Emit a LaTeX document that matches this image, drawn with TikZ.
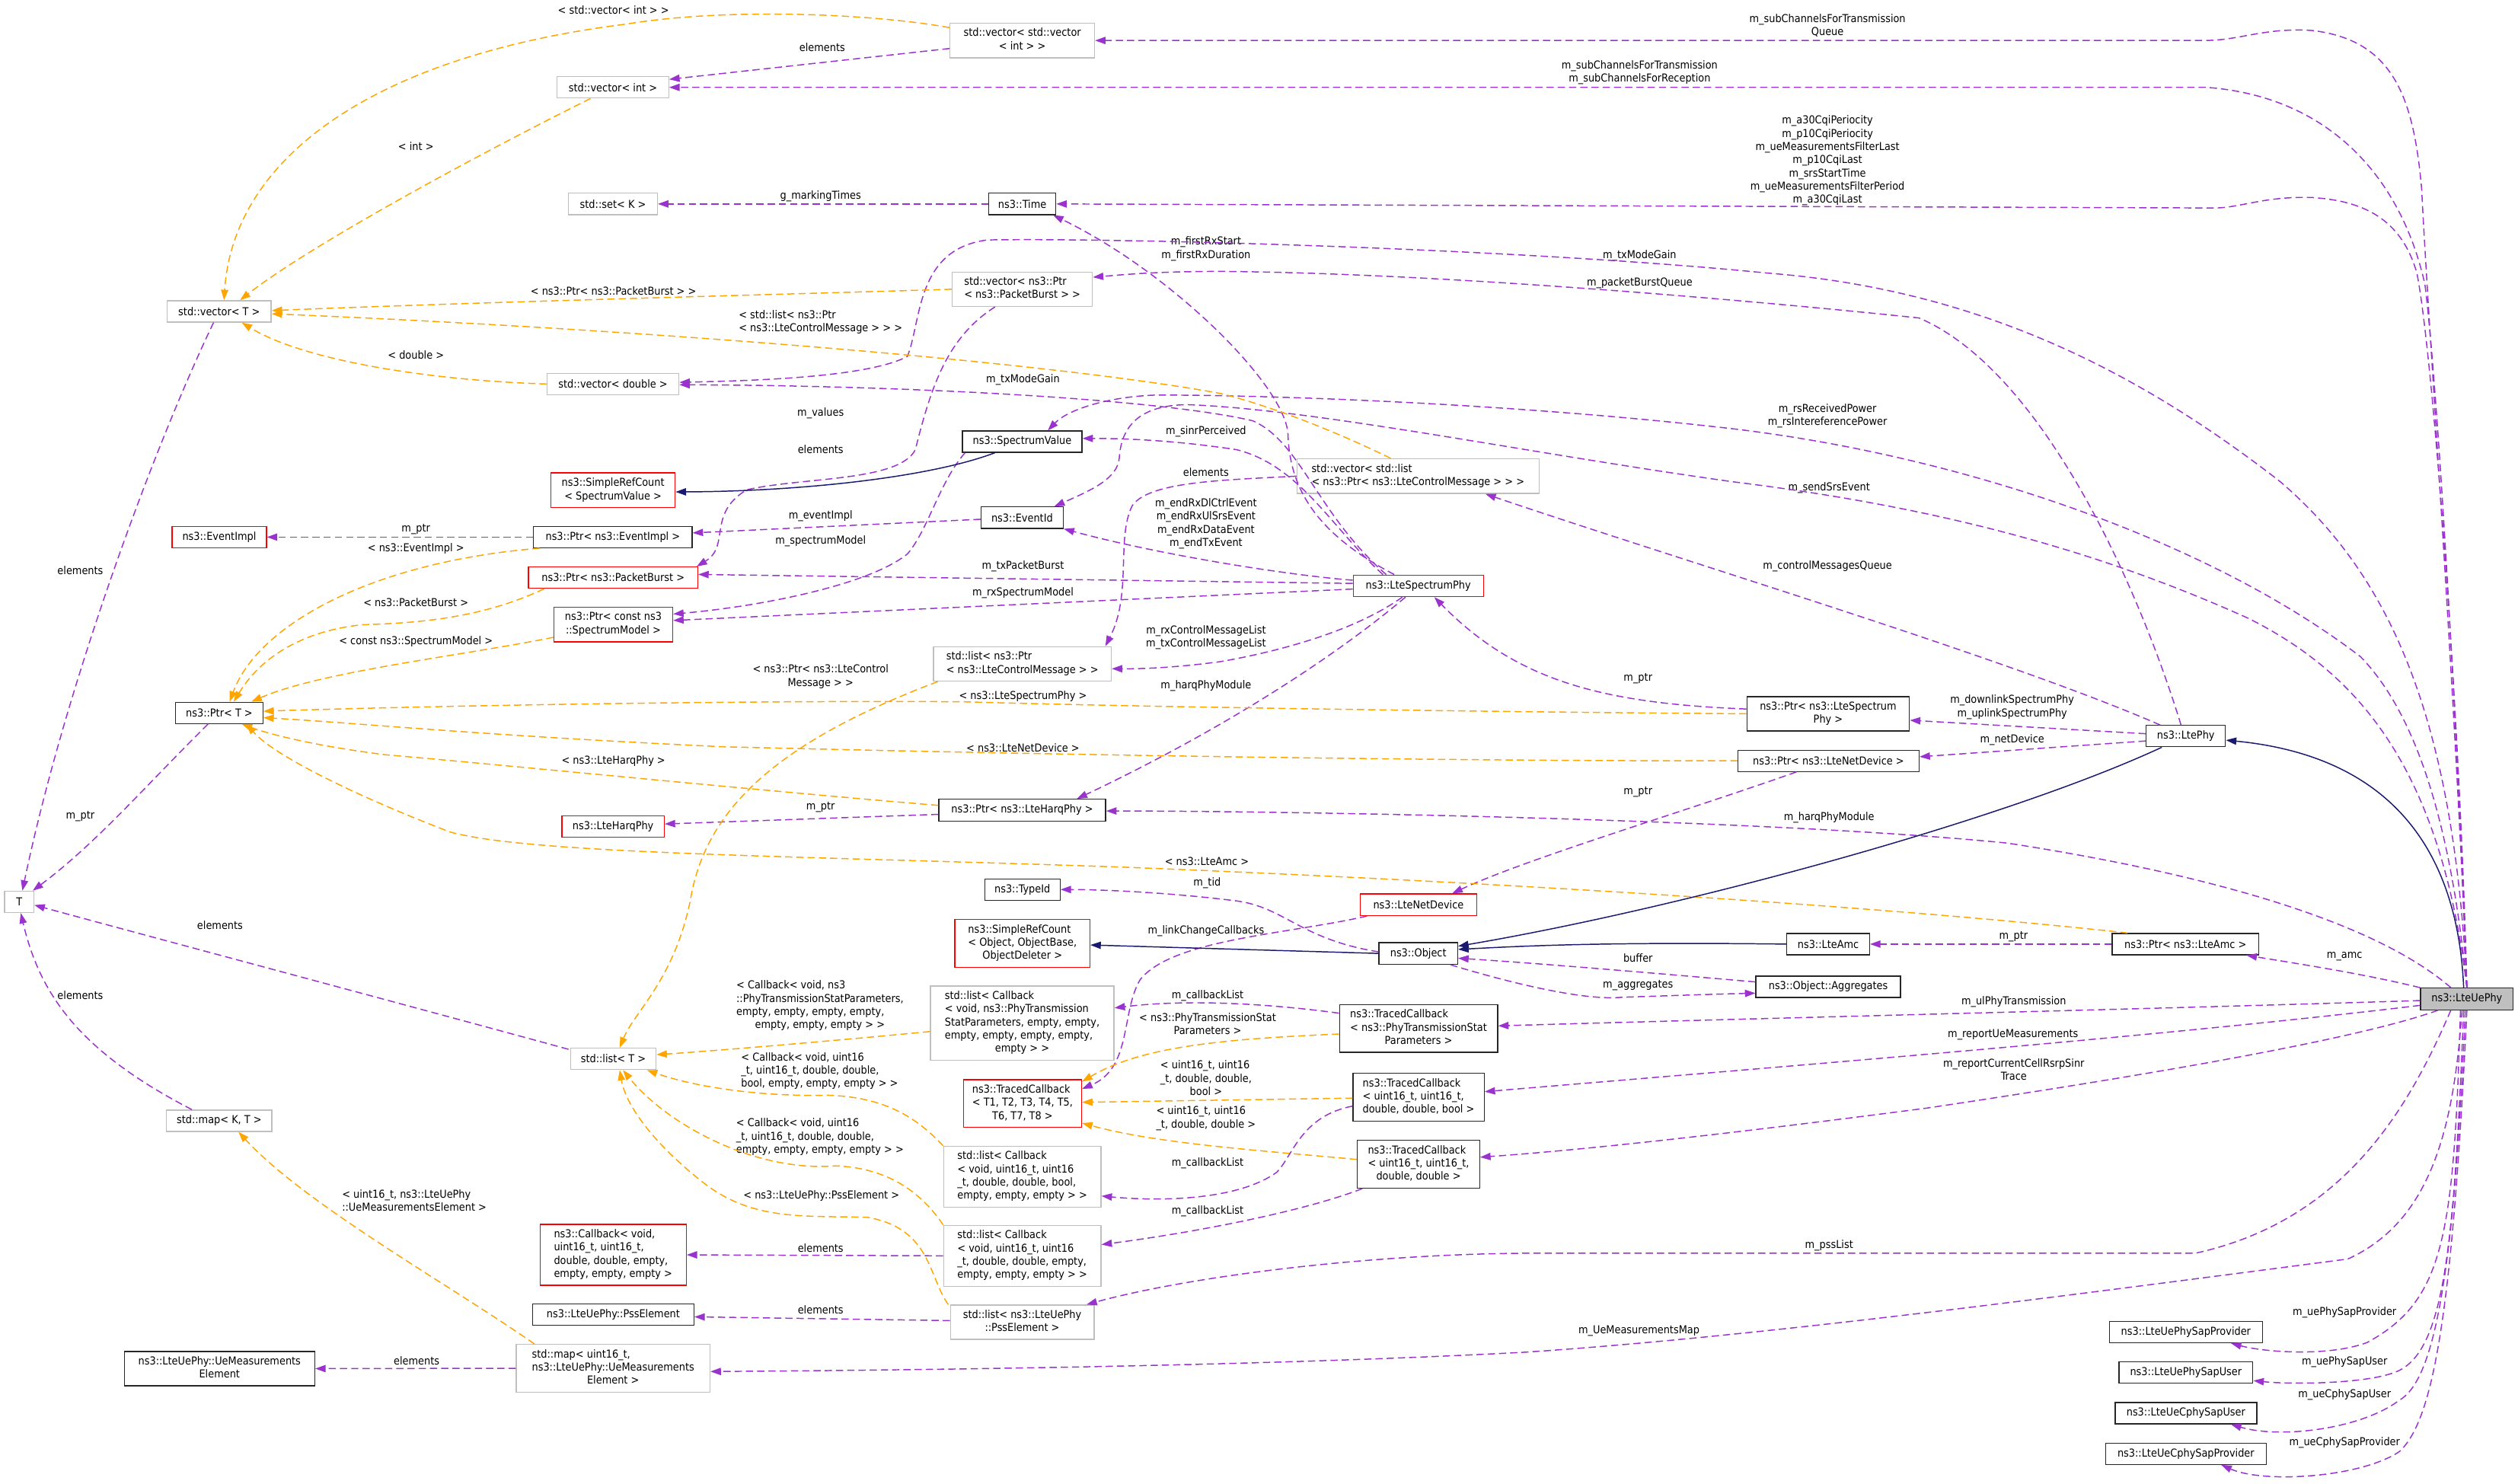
\documentclass[tikz,border=0pt]{standalone}
\usepackage{fontspec}
\newfontfamily\doxfont{DejaVu Sans Condensed}
\usetikzlibrary{arrows.meta}
\definecolor{membcol}{HTML}{9A32CD}
\definecolor{tmplcol}{HTML}{FFA500}
\definecolor{inhrcol}{HTML}{191970}
\definecolor{greyframe}{HTML}{BFBFBF}
\newcommand{\lastln}[1]{\multicolumn{1}{@{}c@{}}{#1}}
\tikzset{
  cls/.style={draw=black!85, line width=0.6pt, inner sep=0pt, font=\doxfont\fontsize{6.8}{8.2}\selectfont},
  gcls/.style={cls, draw=greyframe},
  rcls/.style={cls, draw=red},
  mcls/.style={cls, fill=greyframe},
  lbl/.style={inner sep=0pt, font=\doxfont\fontsize{6.8}{8.2}\selectfont},
  memb/.style={draw=membcol, line width=0.7pt, dash pattern=on 4.5pt off 2.5pt, -{Triangle[length=6.5pt,width=4.5pt]}},
  tmpl/.style={memb, draw=tmplcol},
  inhr/.style={draw=inhrcol, line width=0.7pt, -{Triangle[length=6.5pt,width=4.5pt]}},
}
\begin{document}
\begin{tikzpicture}[x=1pt, y=-1pt]
\useasboundingbox (0,0) rectangle (1568,924);

\node[gcls, minimum width=90pt, minimum height=21.6pt] (vvint) at (636.6,25.2) {\begin{tabular}{@{}l@{}}std::vector< std::vector\\ \lastln{< int > >}\end{tabular}};
\node[gcls, minimum width=69.4pt, minimum height=13.3pt] (vint) at (381.7,54.4) {std::vector< int >};
\node[gcls, minimum width=55.4pt, minimum height=13.3pt] (setk) at (381.7,127) {std::set< K >};
\node[cls, minimum width=41.7pt, minimum height=13.3pt] (time) at (636.6,127) {ns3::Time};
\node[gcls, minimum width=64.7pt, minimum height=13.3pt] (vect) at (136.5,193.9) {std::vector< T >};
\node[gcls, minimum width=87.3pt, minimum height=21.4pt] (vecpb) at (636.6,180.1) {\begin{tabular}{@{}l@{}}std::vector< ns3::Ptr\\ \lastln{< ns3::PacketBurst > >}\end{tabular}};
\node[gcls, minimum width=82.1pt, minimum height=13.3pt] (vecdbl) at (381.7,239.1) {std::vector< double >};
\node[cls, minimum width=74.5pt, minimum height=13.3pt] (specval) at (636.5,275) {ns3::SpectrumValue};
\node[gcls, minimum width=150.6pt, minimum height=21.6pt] (veclist) at (883,296.5) {\begin{tabular}{@{}l@{}}std::vector< std::list\\ \lastln{< ns3::Ptr< ns3::LteControlMessage > > >}\end{tabular}};
\node[rcls, minimum width=77.3pt, minimum height=21.6pt] (srcsv) at (381.75,305.3) {\begin{tabular}{@{}l@{}}ns3::SimpleRefCount\\ \lastln{< SpectrumValue >}\end{tabular}};
\node[rcls, minimum width=58.7pt, minimum height=13.3pt] (eventimpl) at (136.55,334.45) {ns3::EventImpl};
\node[cls, minimum width=98.7pt, minimum height=13.3pt] (ptrei) at (381.65,334.45) {ns3::Ptr< ns3::EventImpl >};
\node[cls, minimum width=51.2pt, minimum height=13.3pt] (eventid) at (636.5,322.35) {ns3::EventId};
\node[rcls, minimum width=105.4pt, minimum height=13.3pt] (ptrpb) at (381.8,359.7) {ns3::Ptr< ns3::PacketBurst >};
\node[rcls, minimum width=74pt, minimum height=21.6pt] (ptrsm) at (381.9,388.85) {\begin{tabular}{@{}l@{}}ns3::Ptr< const ns3\\ \lastln{::SpectrumModel >}\end{tabular}};
\node[rcls, minimum width=81pt, minimum height=13.5pt] (lsp) at (883.2,364.8) {ns3::LteSpectrumPhy};
\node[gcls, minimum width=110.7pt, minimum height=21.4pt] (listcm) at (636.65,413.4) {\begin{tabular}{@{}l@{}}std::list< ns3::Ptr\\ \lastln{< ns3::LteControlMessage > >}\end{tabular}};
\node[cls, minimum width=54.3pt, minimum height=13.3pt] (ptrt) at (136.55,443.9) {ns3::Ptr< T >};
\node[cls, minimum width=101.2pt, minimum height=21.4pt] (ptrlsp) at (1138.4,444.5) {\begin{tabular}{@{}l@{}}ns3::Ptr< ns3::LteSpectrum\\ \lastln{Phy >}\end{tabular}};
\node[cls, minimum width=112.7pt, minimum height=13.3pt] (ptrnd) at (1138.65,473.75) {ns3::Ptr< ns3::LteNetDevice >};
\node[cls, minimum width=49.3pt, minimum height=13.3pt] (ltephy) at (1361.15,458.4) {ns3::LtePhy};
\node[rcls, minimum width=63.7pt, minimum height=13.3pt] (harq) at (381.75,514.7) {ns3::LteHarqPhy};
\node[cls, minimum width=103.9pt, minimum height=13.5pt] (ptrharq) at (636.55,504.5) {ns3::Ptr< ns3::LteHarqPhy >};
\node[gcls, minimum width=18.3pt, minimum height=13.3pt] (tparam) at (11.95,561.6) {T};
\node[cls, minimum width=46.9pt, minimum height=13.3pt] (typeid) at (636.65,553.9) {ns3::TypeId};
\node[rcls, minimum width=72.8pt, minimum height=13.5pt] (lnd) at (883.3,563.4) {ns3::LteNetDevice};
\node[rcls, minimum width=84.1pt, minimum height=29.7pt] (srcobj) at (636.65,587.45) {\begin{tabular}{@{}l@{}}ns3::SimpleRefCount\\ < Object, ObjectBase,\\ \lastln{ObjectDeleter >}\end{tabular}};
\node[cls, minimum width=49pt, minimum height=13.5pt] (object) at (883.2,593.7) {ns3::Object};
\node[cls, minimum width=51.5pt, minimum height=13.3pt] (lteamc) at (1138.45,587.9) {ns3::LteAmc};
\node[cls, minimum width=91.4pt, minimum height=13.3pt] (ptramc) at (1360.9,587.9) {ns3::Ptr< ns3::LteAmc >};
\node[cls, minimum width=90.1pt, minimum height=13.3pt] (aggr) at (1138.45,614.45) {ns3::Object::Aggregates};
\node[mcls, minimum width=57.7pt, minimum height=13.5pt] (lteuephy) at (1536.15,622.05) {ns3::LteUePhy};
\node[gcls, minimum width=114.3pt, minimum height=46.3pt] (listcbphy) at (636.55,637.15) {\begin{tabular}{@{}l@{}}std::list< Callback\\ < void, ns3::PhyTransmission\\ StatParameters, empty, empty,\\ empty, empty, empty, empty,\\ \lastln{empty > >}\end{tabular}};
\node[cls, minimum width=98.5pt, minimum height=29.7pt] (tcphy) at (883.35,640.4) {\begin{tabular}{@{}l@{}}ns3::TracedCallback\\ < ns3::PhyTransmissionStat\\ \lastln{Parameters >}\end{tabular}};
\node[gcls, minimum width=53.2pt, minimum height=13.3pt] (listt) at (381.9,659.35) {std::list< T >};
\node[rcls, minimum width=73.5pt, minimum height=29.7pt] (tct) at (636.75,687.2) {\begin{tabular}{@{}l@{}}ns3::TracedCallback\\ < T1, T2, T3, T4, T5,\\ \lastln{T6, T7, T8 >}\end{tabular}};
\node[cls, minimum width=81.7pt, minimum height=29.7pt] (tcbool) at (883.35,683.3) {\begin{tabular}{@{}l@{}}ns3::TracedCallback\\ < uint16\_t, uint16\_t,\\ \lastln{double, double, bool >}\end{tabular}};
\node[cls, minimum width=76.1pt, minimum height=29.7pt] (tcdbl) at (883.35,725) {\begin{tabular}{@{}l@{}}ns3::TracedCallback\\ < uint16\_t, uint16\_t,\\ \lastln{double, double >}\end{tabular}};
\node[gcls, minimum width=98pt, minimum height=37.9pt] (listcbbool) at (636.6,732.75) {\begin{tabular}{@{}l@{}}std::list< Callback\\ < void, uint16\_t, uint16\\ \_t, double, double, bool,\\ \lastln{empty, empty, empty > >}\end{tabular}};
\node[gcls, minimum width=65.6pt, minimum height=13.3pt] (mapkt) at (136.5,697.9) {std::map< K, T >};
\node[gcls, minimum width=98pt, minimum height=37.9pt] (listcbdbl) at (636.6,782) {\begin{tabular}{@{}l@{}}std::list< Callback\\ < void, uint16\_t, uint16\\ \_t, double, double, empty,\\ \lastln{empty, empty, empty > >}\end{tabular}};
\node[rcls, minimum width=91pt, minimum height=37.9pt] (cbred) at (381.8,781.4) {\begin{tabular}{@{}l@{}}ns3::Callback< void,\\ uint16\_t, uint16\_t,\\ double, double, empty,\\ \lastln{empty, empty, empty >}\end{tabular}};
\node[cls, minimum width=100.4pt, minimum height=13.3pt] (psselem) at (381.9,818.7) {ns3::LteUePhy::PssElement};
\node[gcls, minimum width=89.5pt, minimum height=21.4pt] (listpss) at (636.55,823.35) {\begin{tabular}{@{}l@{}}std::list< ns3::LteUePhy\\ \lastln{::PssElement >}\end{tabular}};
\node[cls, minimum width=118.6pt, minimum height=21.4pt] (uemeas) at (136.7,852.25) {\begin{tabular}{@{}l@{}}ns3::LteUePhy::UeMeasurements\\ \lastln{Element}\end{tabular}};
\node[gcls, minimum width=120.6pt, minimum height=29.7pt] (mapue) at (381.8,852.05) {\begin{tabular}{@{}l@{}}std::map< uint16\_t,\\ ns3::LteUePhy::UeMeasurements\\ \lastln{Element >}\end{tabular}};
\node[cls, minimum width=95.2pt, minimum height=13.3pt] (sapprov) at (1361.2,829.45) {ns3::LteUePhySapProvider};
\node[cls, minimum width=83.4pt, minimum height=13.3pt] (sapuser) at (1361.2,854.75) {ns3::LteUePhySapUser};
\node[cls, minimum width=88.2pt, minimum height=13.3pt] (cphyuser) at (1361.2,880) {ns3::LteUeCphySapUser};
\node[cls, minimum width=100pt, minimum height=13.3pt] (cphyprov) at (1361.2,905.25) {ns3::LteUeCphySapProvider};

\node[lbl] (l1) at (382,6) {< std::vector< int > >};
\node[lbl] (l2) at (512,29.5) {elements};
\node[lbl] (l3) at (259,91) {< int >};
\node[lbl] (l4) at (511,122) {g\_markingTimes};
\node[lbl] (l5) at (1138,16.3) {\begin{tabular}{@{}l@{}}m\_subChannelsForTransmission\\ \lastln{Queue}\end{tabular}};
\node[lbl] (l6) at (1021,45.3) {\begin{tabular}{@{}c@{}}m\_subChannelsForTransmission\\ m\_subChannelsForReception\end{tabular}};
\node[lbl] (l7) at (1138,100.2) {\begin{tabular}{@{}c@{}}m\_a30CqiPeriocity\\ m\_p10CqiPeriocity\\ m\_ueMeasurementsFilterLast\\ m\_p10CqiLast\\ m\_srsStartTime\\ m\_ueMeasurementsFilterPeriod\\ m\_a30CqiLast\end{tabular}};
\node[lbl] (l8) at (1021,159) {m\_txModeGain};
\node[lbl] (l9) at (1021,176.4) {m\_packetBurstQueue};
\node[lbl] (l10) at (751,155) {\begin{tabular}{@{}c@{}}m\_firstRxStart\\ m\_firstRxDuration\end{tabular}};
\node[lbl] (l11) at (382,181) {< ns3::Ptr< ns3::PacketBurst > >};
\node[lbl] (l12) at (511,200.7) {\begin{tabular}{@{}l@{}}< std::list< ns3::Ptr\\ \lastln{< ns3::LteControlMessage > > >}\end{tabular}};
\node[lbl] (l13) at (259,221) {< double >};
\node[lbl] (l14) at (637,236.7) {m\_txModeGain};
\node[lbl] (l15) at (511,257.5) {m\_values};
\node[lbl] (l16) at (1138,259) {\begin{tabular}{@{}c@{}}m\_rsReceivedPower\\ m\_rsIntereferencePower\end{tabular}};
\node[lbl] (l17) at (751,268.7) {m\_sinrPerceived};
\node[lbl] (l18) at (511,280) {elements};
\node[lbl] (l19) at (751,294) {elements};
\node[lbl] (l20) at (1139,303.7) {m\_sendSrsEvent};
\node[lbl] (l21) at (511,321.5) {m\_eventImpl};
\node[lbl] (l22) at (751,326.2) {\begin{tabular}{@{}c@{}}m\_endRxDlCtrlEvent\\ m\_endRxUlSrsEvent\\ m\_endRxDataEvent\\ m\_endTxEvent\end{tabular}};
\node[lbl] (l23) at (259,329.4) {m\_ptr};
\node[lbl] (l24) at (511,337) {m\_spectrumModel};
\node[lbl] (l25) at (259,341.4) {< ns3::EventImpl >};
\node[lbl] (l26) at (1138,352.4) {m\_controlMessagesQueue};
\node[lbl] (l27) at (637,352.8) {m\_txPacketBurst};
\node[lbl] (l28) at (50,355.4) {elements};
\node[lbl] (l29) at (637,369.4) {m\_rxSpectrumModel};
\node[lbl] (l30) at (259,375) {< ns3::PacketBurst >};
\node[lbl] (l31) at (751,397) {\begin{tabular}{@{}c@{}}m\_rxControlMessageList\\ m\_txControlMessageList\end{tabular}};
\node[lbl] (l32) at (259,399.5) {< const ns3::SpectrumModel >};
\node[lbl] (l33) at (511,421.5) {\begin{tabular}{@{}l@{}}< ns3::Ptr< ns3::LteControl\\ \lastln{Message > >}\end{tabular}};
\node[lbl] (l34) at (1020,422.3) {m\_ptr};
\node[lbl] (l35) at (751,426.9) {m\_harqPhyModule};
\node[lbl] (l36) at (637,433.4) {< ns3::LteSpectrumPhy >};
\node[lbl] (l37) at (1253,440.5) {\begin{tabular}{@{}c@{}}m\_downlinkSpectrumPhy\\ m\_uplinkSpectrumPhy\end{tabular}};
\node[lbl] (l38) at (1253,460.6) {m\_netDevice};
\node[lbl] (l39) at (637,465.6) {< ns3::LteNetDevice >};
\node[lbl] (l40) at (382,474) {< ns3::LteHarqPhy >};
\node[lbl] (l41) at (1020,493.3) {m\_ptr};
\node[lbl] (l42) at (511,502.7) {m\_ptr};
\node[lbl] (l43) at (50,508.5) {m\_ptr};
\node[lbl] (l44) at (1139,509) {m\_harqPhyModule};
\node[lbl] (l45) at (751.5,536.6) {< ns3::LteAmc >};
\node[lbl] (l46) at (751.7,550) {m\_tid};
\node[lbl] (l47) at (137,576) {elements};
\node[lbl] (l48) at (751,579.6) {m\_linkChangeCallbacks};
\node[lbl] (l49) at (1253.8,583.4) {m\_ptr};
\node[lbl] (l50) at (1460,595.5) {m\_amc};
\node[lbl] (l51) at (1020,596.5) {buffer};
\node[lbl] (l52) at (1020,613.5) {m\_aggregates};
\node[lbl] (l53) at (50,619.7) {elements};
\node[lbl] (l54) at (752,620.2) {m\_callbackList};
\node[lbl] (l55) at (1254,624) {m\_ulPhyTransmission};
\node[lbl] (l56) at (510.6,626.5) {\begin{tabular}{@{}l@{}}< Callback< void, ns3\\ ::PhyTransmissionStatParameters,\\ empty, empty, empty, empty,\\ \lastln{empty, empty, empty > >}\end{tabular}};
\node[lbl] (l57) at (752,638.6) {\begin{tabular}{@{}l@{}}< ns3::PhyTransmissionStat\\ \lastln{Parameters >}\end{tabular}};
\node[lbl] (l58) at (1253.5,644.5) {m\_reportUeMeasurements};
\node[lbl] (l59) at (1254,667) {\begin{tabular}{@{}l@{}}m\_reportCurrentCellRsrpSinr\\ \lastln{Trace}\end{tabular}};
\node[lbl] (l60) at (510.4,667.1) {\begin{tabular}{@{}l@{}}< Callback< void, uint16\\ \_t, uint16\_t, double, double,\\ \lastln{bool, empty, empty, empty > >}\end{tabular}};
\node[lbl] (l61) at (751,672.2) {\begin{tabular}{@{}l@{}}< uint16\_t, uint16\\ \_t, double, double,\\ \lastln{bool >}\end{tabular}};
\node[lbl] (l62) at (751,696.5) {\begin{tabular}{@{}l@{}}< uint16\_t, uint16\\ \lastln{\_t, double, double >}\end{tabular}};
\node[lbl] (l63) at (510.6,708.2) {\begin{tabular}{@{}l@{}}< Callback< void, uint16\\ \_t, uint16\_t, double, double,\\ \lastln{empty, empty, empty, empty > >}\end{tabular}};
\node[lbl] (l64) at (752,724.2) {m\_callbackList};
\node[lbl] (l65) at (511.5,744.7) {< ns3::LteUePhy::PssElement >};
\node[lbl] (l66) at (258,748.5) {\begin{tabular}{@{}l@{}}< uint16\_t, ns3::LteUePhy\\ \lastln{::UeMeasurementsElement >}\end{tabular}};
\node[lbl] (l67) at (752,754) {m\_callbackList};
\node[lbl] (l68) at (1139,775.8) {m\_pssList};
\node[lbl] (l69) at (511,777.1) {elements};
\node[lbl] (l70) at (511,815.7) {elements};
\node[lbl] (l71) at (1460,817.2) {m\_uePhySapProvider};
\node[lbl] (l72) at (1020.6,828.8) {m\_UeMeasurementsMap};
\node[lbl] (l73) at (259.4,847.5) {elements};
\node[lbl] (l74) at (1460,848) {m\_uePhySapUser};
\node[lbl] (l75) at (1460,868.4) {m\_ueCphySapUser};
\node[lbl] (l76) at (1460,898.6) {m\_ueCphySapProvider};

\draw[memb] (lteuephy.north) .. controls (1530,450) and (1512,200) .. (1508,118) .. controls (1503,60) and (1490,25) .. (1440,19) .. controls (1410,17) and (1395,25.2) .. (1373,25.2) -- (vvint.east);
\draw[memb] (lteuephy.north) .. controls (1530,450) and (1518,240) .. (1510,177) .. controls (1495,110) and (1450,60) .. (1374,54.4) -- (vint.east);
\draw[memb] (lteuephy.north) .. controls (1532,450) and (1515,220) .. (1505,170) .. controls (1495,135) and (1470,125) .. (1440,123) .. controls (1410,122) and (1395,129.5) .. (1379,129.5) -- (time.east);
\draw[memb] ([yshift=-5pt]vvint.west) -- ([yshift=5pt]vint.east);
\draw[tmpl] ([yshift=8pt]vvint.west) .. controls (540,8) and (450,5) .. (390,15) .. controls (230,35) and (145,100) .. ([xshift=3pt]vect.north);
\draw[tmpl] ([xshift=-14pt]vint.south) .. controls (290,100) and (190,155) .. ([xshift=13pt]vect.north);
\draw[memb] (time.west) -- (setk.east);
\draw[memb] ([xshift=-15pt]lsp.north) .. controls (815,330) and (803,300) .. (802,270) .. controls (800,240) and (730,170) .. ([xshift=-2pt]time.south east);
\draw[memb] (lteuephy.north) .. controls (1528,450) and (1490,360) .. (1420,300) .. controls (1330,230) and (1230,180) .. (1100,170) .. controls (950,155) and (700,148) .. (615,149.4) .. controls (570,155) and (574,200) .. (565,222) .. controls (540,235) and (470,237) .. ([yshift=1pt]vecdbl.east);
\draw[memb] ([xshift=-20pt]lsp.north) .. controls (820,320) and (810,275) .. (780,262) .. controls (720,248) and (560,240) .. ([yshift=-0.5pt]vecdbl.east);
\draw[memb] (lteuephy.north) .. controls (1525,500) and (1500,440) .. (1470,409) .. controls (1380,340) and (1230,285) .. (1079,267) .. controls (950,252) and (800,246) .. (720,246) .. controls (690,247) and (665,255) .. ([xshift=16pt]specval.north);
\draw[memb] (lteuephy.north) .. controls (1520,480) and (1470,420) .. (1400,385) .. controls (1300,340) and (1200,315) .. (1079,300) .. controls (950,282) and (820,255) .. (740,252) .. controls (705,252) and (698,270) .. (697,285) .. controls (696,298) and (680,305) .. ([xshift=20pt]eventid.north);
\draw[memb] ([xshift=-16pt]ltephy.north) .. controls (1250,410) and (1050,350) .. ([xshift=42pt]veclist.south);
\draw[memb] ([xshift=-3pt]ltephy.north) .. controls (1330,360) and (1270,230) .. (1195,198) .. controls (1100,188) and (900,170) .. (760,169) .. controls (720,169) and (700,171) .. ([yshift=7.5pt]vecpb.east);
\draw[memb] ([xshift=-22pt]lsp.north) .. controls (830,330) and (810,290) .. (770,280) .. controls (730,274) and (700,273) .. ([yshift=2pt]specval.east);
\draw[memb] ([yshift=3.5pt]lsp.west) .. controls (800,358) and (720,345) .. (eventid.south east);
\draw[memb] ([yshift=1.5pt]lsp.west) -- ([yshift=2pt]ptrpb.east);
\draw[memb] ([yshift=-2pt]lsp.west) -- ([yshift=2.5pt]ptrsm.east);
\draw[memb] ([xshift=2pt]specval.south west) .. controls (585,300) and (578,330) .. (565,345) .. controls (540,365) and (470,378) .. ([yshift=6.5pt]ptrsm.east);
\draw[memb] ([xshift=-17pt]vecpb.south) .. controls (590,210) and (580,240) .. (570,280) .. controls (560,300) and (500,297) .. (465,305) .. controls (440,320) and (455,340) .. ([xshift=-1pt]ptrpb.north east);
\draw[memb] ([yshift=-1pt]eventid.west) -- ([yshift=2.6pt]ptrei.east);
\draw[memb] (ptrei.west) -- (eventimpl.east);
\draw[tmpl] ([xshift=4pt]ptrei.south west) .. controls (230,350) and (160,390) .. ([xshift=6.5pt]ptrt.north);
\draw[tmpl] ([xshift=10pt]ptrpb.south west) .. controls (300,385) and (260,388) .. (226,389) .. controls (195,392) and (165,405) .. ([xshift=9pt]ptrt.north);
\draw[tmpl] ([yshift=-8pt]ptrsm.west) .. controls (290,408) and (200,418) .. ([xshift=20pt]ptrt.north);
\draw[memb] ([yshift=3pt]ptrlsp.west) .. controls (1000,438) and (945,425) .. ([xshift=10pt]lsp.south);
\draw[memb] ([yshift=1.5pt]ltephy.west) -- ([yshift=-4pt]ptrlsp.east);
\draw[memb] ([yshift=-3pt]ltephy.west) -- ([yshift=2.5pt]ptrnd.east);
\draw[memb] ([xshift=-20pt]ptrnd.south) .. controls (1050,505) and (950,535) .. ([xshift=21pt]lnd.north);
\draw[memb] ([xshift=-8pt]lsp.south) .. controls (830,410) and (760,455) .. ([xshift=34pt]ptrharq.north);
\draw[memb] ([xshift=-10pt]lsp.south) .. controls (845,392) and (800,405) .. (760,412) .. controls (730,416) and (710,416.5) .. ([yshift=-3pt]listcm.east);
\draw[memb] (veclist.west) .. controls (760,299) and (715,300) .. (705,315) .. controls (695,335) and (705,370) .. ([xshift=-4pt]listcm.north east);
\draw[memb] ([xshift=-10pt]lteuephy.north) .. controls (1480,575) and (1380,545) .. (1250,525) .. controls (1100,510) and (800,505) .. ([yshift=-0.5pt]ptrharq.east);
\draw[memb] ([yshift=-2.6pt]ptrharq.west) -- ([yshift=1.6pt]harq.east);
\draw[tmpl] (ptrlsp.west) .. controls (900,443) and (700,440) .. (600,437) .. controls (450,436) and (250,440) .. ([yshift=1pt]ptrt.east);
\draw[tmpl] (ptrnd.west) .. controls (900,474) and (650,470) .. (450,465) .. controls (300,458) and (220,450) .. ([yshift=-3pt]ptrt.east);
\draw[tmpl] ([yshift=3pt]ptrharq.west) .. controls (480,493) and (300,475) .. (240,470) .. controls (200,465) and (170,458) .. ([xshift=14pt]ptrt.south);
\draw[tmpl] ([xshift=-36pt]ptramc.north) .. controls (1150,562) and (900,548) .. (700,540) .. controls (500,533) and (330,532) .. (280,518) .. controls (220,495) and (170,470) .. ([xshift=17pt]ptrt.south);
\draw[memb] ([xshift=-7pt]ptrt.south) .. controls (90,490) and (60,525) .. ([xshift=-1pt]tparam.north east);
\draw[memb] ([xshift=-3.5pt]vect.south) .. controls (95,280) and (40,430) .. ([xshift=2pt]tparam.north);
\draw[memb] ([xshift=-1pt,yshift=-1pt]listt.north west) .. controls (250,625) and (100,585) .. ([yshift=-2pt]tparam.east);
\draw[memb] ([xshift=-17pt]mapkt.north) .. controls (50,655) and (25,620) .. ([xshift=1pt]tparam.south);
\draw[tmpl] (vecdbl.west) .. controls (270,237) and (190,225) .. ([xshift=14pt]vect.south);
\draw[tmpl] (vecpb.west) .. controls (500,183) and (300,188) .. ([yshift=0.5pt]vect.east);
\draw[tmpl] ([xshift=-17pt]veclist.north) .. controls (845,275) and (800,255) .. (760,245) .. controls (650,225) and (400,205) .. ([yshift=-1.5pt]vect.east);
\draw[tmpl] ([xshift=3pt]listcm.south west) .. controls (490,460) and (440,500) .. (430,560) .. controls (420,610) and (395,630) .. ([xshift=4pt]listt.north);
\draw[tmpl] ([yshift=-5.2pt]listcbphy.west) .. controls (520,648) and (450,654) .. ([yshift=2.6pt]listt.east);
\draw[tmpl] (listcbbool.north west) .. controls (570,695) and (550,683) .. (515,682) .. controls (470,683) and (430,676) .. ([xshift=-6pt]listt.south east);
\draw[tmpl] (listcbdbl.north west) .. controls (572,740) and (550,727) .. (520,726) .. controls (470,730) and (415,700) .. ([xshift=6pt]listt.south);
\draw[tmpl] ([xshift=-1pt]listpss.north west) .. controls (578,795) and (580,765) .. (540,758) .. controls (500,757) and (470,760) .. (440,738) .. controls (410,715) and (390,690) .. ([xshift=4pt]listt.south);
\draw[tmpl] ([xshift=-49pt]mapue.north) .. controls (280,800) and (190,750) .. ([xshift=12pt]mapkt.south);
\draw[memb] ([yshift=1pt]listpss.west) -- ([yshift=-1.3pt]psselem.east);
\draw[memb] (listcbdbl.west) -- (cbred.east);
\draw[memb] (mapue.west) -- (uemeas.east);
\draw[memb] ([xshift=-3pt]lteuephy.south) .. controls (1528,700) and (1515,760) .. (1462,784) .. controls (1300,805) and (1100,832) .. (950,842) .. controls (800,850) and (600,853) .. ([yshift=-2pt]mapue.east);
\draw[memb] ([xshift=-10pt]lteuephy.south) .. controls (1500,690) and (1460,760) .. (1367,780.4) -- (950,780.4) .. controls (850,781) and (740,795) .. ([xshift=-5pt]listpss.north east);
\draw[memb] ([xshift=-4pt]lteuephy.south) .. controls (1528,770) and (1522,810) .. (1474,836) .. controls (1450,845) and (1410,842) .. ([xshift=28pt]sapprov.south);
\draw[memb] ([xshift=-2pt]lteuephy.south) .. controls (1528,780) and (1522,845) .. (1490,855) .. controls (1470,862) and (1425,862) .. ([yshift=-5pt]sapuser.east);
\draw[memb] ([xshift=-1pt]lteuephy.south) .. controls (1528,800) and (1515,860) .. (1494,872) .. controls (1470,890) and (1420,896) .. ([xshift=28pt]cphyuser.south);
\draw[memb] (lteuephy.south) .. controls (1527,820) and (1515,885) .. (1494,904) .. controls (1470,920) and (1410,924) .. ([xshift=22pt]cphyprov.south);
\draw[memb] ([xshift=-18pt]lteuephy.south) .. controls (1460,650) and (1300,675) .. (1200,690) .. controls (1100,703) and (1000,715) .. ([yshift=4.4pt]tcdbl.east);
\draw[memb] ([yshift=-4pt]lteuephy.west) .. controls (1350,645) and (1100,665) .. ([yshift=3.5pt]tcbool.east);
\draw[memb] ([yshift=-1pt]lteuephy.west) .. controls (1350,628) and (1100,634) .. ([yshift=1.6pt]tcphy.east);
\draw[memb] (lteuephy.north west) .. controls (1470,606) and (1430,600) .. ([xshift=38pt]ptramc.south);
\draw[memb] (ptramc.west) -- (lteamc.east);
\draw[memb] ([yshift=1pt]object.west) .. controls (810,585) and (800,565) .. (770,561) .. controls (730,556) and (690,554) .. (typeid.east);
\draw[memb] ([xshift=-32pt]lnd.south) .. controls (800,582) and (730,585) .. (710,610) .. controls (698,630) and (705,665) .. ([yshift=-6pt]tct.north east);
\draw[inhr] (object.west) -- ([yshift=-1pt]srcobj.east);
\draw[inhr] ([xshift=-15pt]ltephy.south) .. controls (1250,510) and (1050,565) .. ([yshift=4.5pt]object.east);
\draw[inhr] (lteamc.west) .. controls (1000,586.5) and (950,589) .. ([yshift=2.5pt]object.east);
\draw[inhr] ([xshift=-2pt]lteuephy.north) .. controls (1530,520) and (1480,470) .. ([yshift=-2.5pt]ltephy.east);
\draw[inhr] ([xshift=-17pt]specval.south) .. controls (580,297) and (500,306) .. ([yshift=-1pt]srcsv.east);
\draw[memb] ([yshift=9.5pt]tcphy.west) .. controls (790,625) and (740,622) .. ([yshift=9.5pt]listcbphy.east);
\draw[tmpl] ([yshift=-3.5pt]tcphy.west) .. controls (760,647) and (710,652) .. ([yshift=-1.5pt]tct.north east);
\draw[tmpl] ([yshift=-0.5pt]tcbool.west) -- ([yshift=0.8pt]tct.east);
\draw[tmpl] ([yshift=3pt]tcdbl.west) .. controls (780,716) and (720,712) .. ([yshift=3pt]tct.south east);
\draw[memb] ([yshift=-5.5pt]tcbool.west) .. controls (810,695) and (805,720) .. (795,730) .. controls (770,748) and (720,748) .. ([yshift=-12pt]listcbbool.east);
\draw[memb] ([xshift=-35pt]tcdbl.south) .. controls (810,755) and (740,768) .. ([yshift=7pt]listcbdbl.east);
\draw[memb] ([yshift=3pt]aggr.west) .. controls (1030,606) and (960,600) .. ([yshift=-3pt]object.east);
\draw[memb] ([xshift=20pt]object.south) .. controls (950,615) and (990,623) .. (1010,621) .. controls (1040,620) and (1070,619) .. ([yshift=-4pt]aggr.west);
\end{tikzpicture}
\end{document}
